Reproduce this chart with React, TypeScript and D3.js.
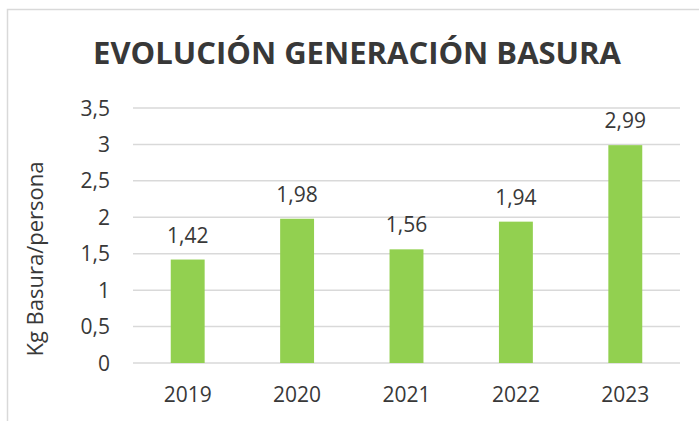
import React from "react";
import * as d3 from "d3";

// chart data
const years = ["2019", "2020", "2021", "2022", "2023"];
const kgPerPerson = [1.42, 1.98, 1.56, 1.94, 2.99];
const yTicks = [0, 0.5, 1, 1.5, 2, 2.5, 3, 3.5];

const W = 699, H = 421;
const left = 133, right = 680, top = 108, bottom = 363;
const font = "'Open Sans', sans-serif";
const textColor = "#383838";
const fmt = (v: number) => String(v).replace(".", ",");

export default function App() {
  const x = d3.scaleBand<string>()
    .domain(years)
    .range([left, right])
    .paddingInner(0.69)
    .paddingOuter(0.345);
  const y = d3.scaleLinear().domain([0, 3.5]).range([bottom, top]);

  return (
    <svg width={W} height={H} style={{ position: "absolute", left: 0, top: 0, background: "#fff" }}>
      {/* chart frame, cut off at right and bottom */}
      <path d={`M7.5,${H + 2} V9.5 H${W + 2}`} fill="none" stroke="#d9d9d9" strokeWidth={1.5} />

      <text x={357} y={64} textAnchor="middle" fontFamily={font} fontWeight="bold" fontSize={31} fill={textColor}>
        EVOLUCIÓN GENERACIÓN BASURA
      </text>

      {/* grid + y ticks */}
      {yTicks.map((t) => (
        <g key={t}>
          <line x1={left} x2={right} y1={y(t)} y2={y(t)} stroke="#d9d9d9" strokeWidth={1.5} />
          <text x={110} y={y(t) + 7.5} textAnchor="end" fontFamily={font} fontSize={21} fill={textColor}>
            {fmt(t)}
          </text>
        </g>
      ))}

      <text
        transform={`translate(43,259) rotate(-90)`}
        textAnchor="middle"
        fontFamily={font}
        fontSize={22}
        fill={textColor}
      >
        Kg Basura/persona
      </text>

      {/* bars + value labels */}
      {years.map((yr, i) => (
        <g key={yr}>
          <rect
            x={x(yr)}
            y={y(kgPerPerson[i])}
            width={x.bandwidth()}
            height={bottom - y(kgPerPerson[i])}
            fill="#92d050"
          />
          <text
            x={(x(yr) as number) + x.bandwidth() / 2}
            y={y(kgPerPerson[i]) - 17}
            textAnchor="middle"
            fontFamily={font}
            fontSize={21}
            fill={textColor}
          >
            {fmt(kgPerPerson[i])}
          </text>
          <text
            x={(x(yr) as number) + x.bandwidth() / 2}
            y={402}
            textAnchor="middle"
            fontFamily={font}
            fontSize={21}
            fill={textColor}
          >
            {yr}
          </text>
        </g>
      ))}
    </svg>
  );
}
